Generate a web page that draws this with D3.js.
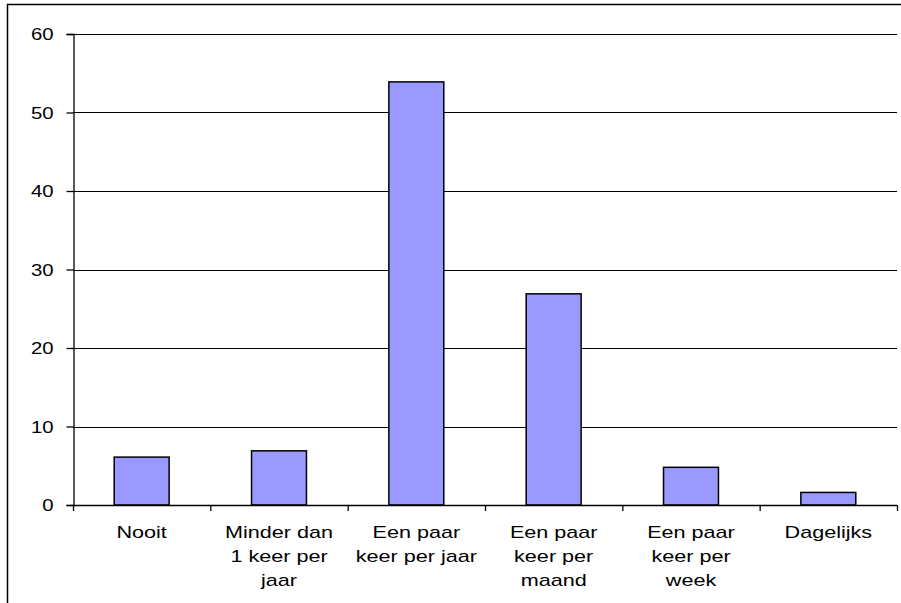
<!DOCTYPE html>
<html>
<head>
<meta charset="utf-8">
<script src="https://cdn.jsdelivr.net/npm/d3@7"></script>
<style>
  html, body { margin: 0; padding: 0; background: #fff; }
  svg { display: block; }
  text { font-family: "Liberation Sans", Arial, sans-serif; fill: #000; }
</style>
</head>
<body>
<script>
// Frequency categories (each label split into its display lines)
const categories = [
  ["Nooit"],
  ["Minder dan", "1 keer per", "jaar"],
  ["Een paar", "keer per jaar"],
  ["Een paar", "keer per", "maand"],
  ["Een paar", "keer per", "week"],
  ["Dagelijks"]
];
const values = [6.1, 6.9, 53.9, 26.9, 4.8, 1.6];
const yTicks = [0, 10, 20, 30, 40, 50, 60];

const W = 901, H = 603;
const plot = { left: 73, right: 897, top: 34, bottom: 505 };
const labelStretch = 1.27;   // wide, Excel-style lettering

const svg = d3.select("body").append("svg")
  .attr("width", W).attr("height", H);

// outer chart frame
svg.append("rect")
  .attr("x", 7.5).attr("y", 4.5)
  .attr("width", 1000).attr("height", 1000)
  .attr("fill", "none").attr("stroke", "#000").attr("stroke-width", 1.5);

const x = d3.scaleBand()
  .domain(d3.range(categories.length))
  .range([plot.left, plot.right])
  .paddingInner(0.6).paddingOuter(0.3);

const y = d3.scaleLinear().domain([0, 60]).range([plot.bottom, plot.top]);

// horizontal gridlines
svg.append("g").selectAll("line")
  .data(yTicks.filter(t => t > 0))
  .join("line")
  .attr("x1", plot.left).attr("x2", plot.right)
  .attr("y1", d => Math.round(y(d)) + 0.5).attr("y2", d => Math.round(y(d)) + 0.5)
  .attr("stroke", "#000").attr("stroke-width", 1);

// bars
svg.append("g").selectAll("rect")
  .data(values)
  .join("rect")
  .attr("x", (d, i) => x(i))
  .attr("y", d => y(d))
  .attr("width", x.bandwidth())
  .attr("height", d => y(0) - y(d))
  .attr("fill", "#9999ff")
  .attr("stroke", "#000").attr("stroke-width", 1.5);

// y axis
const yAxis = svg.append("g")
  .attr("transform", `translate(${plot.left + 0.5},0)`)
  .call(d3.axisLeft(y).tickValues(yTicks).tickSize(7).tickPadding(13));
yAxis.selectAll("path, line").attr("stroke", "#000").attr("stroke-width", 1.3);
yAxis.selectAll("text")
  .attr("font-size", 16)
  .style("font-family", "Liberation Sans, Arial, sans-serif")
  .attr("x", 0)
  .attr("dy", "0.36em")
  .attr("transform", `translate(-20,0) scale(${labelStretch},1)`);

// x axis with ticks at category boundaries
const step = (plot.right - plot.left) / categories.length;
const xb = svg.append("g");
xb.append("line")
  .attr("x1", plot.left).attr("x2", plot.right)
  .attr("y1", Math.round(y(0)) + 0.5).attr("y2", Math.round(y(0)) + 0.5)
  .attr("stroke", "#000").attr("stroke-width", 1.5);
xb.selectAll("line.tick")
  .data(d3.range(categories.length + 1))
  .join("line").attr("class", "tick")
  .attr("x1", i => plot.left + i * step + 0.5).attr("x2", i => plot.left + i * step + 0.5)
  .attr("y1", y(0)).attr("y2", y(0) + 6)
  .attr("stroke", "#000").attr("stroke-width", 1.3);

// category labels
const lab = svg.append("g").selectAll("text")
  .data(categories)
  .join("text")
  .attr("text-anchor", "middle")
  .attr("font-size", 17)
  .attr("transform", (d, i) =>
    `translate(${x(i) + x.bandwidth() / 2},538) scale(${labelStretch},1)`);
lab.selectAll("tspan")
  .data(d => d)
  .join("tspan")
  .attr("x", 0)
  .attr("dy", (d, j) => j === 0 ? 0 : 24)
  .text(d => d);
</script>
</body>
</html>
